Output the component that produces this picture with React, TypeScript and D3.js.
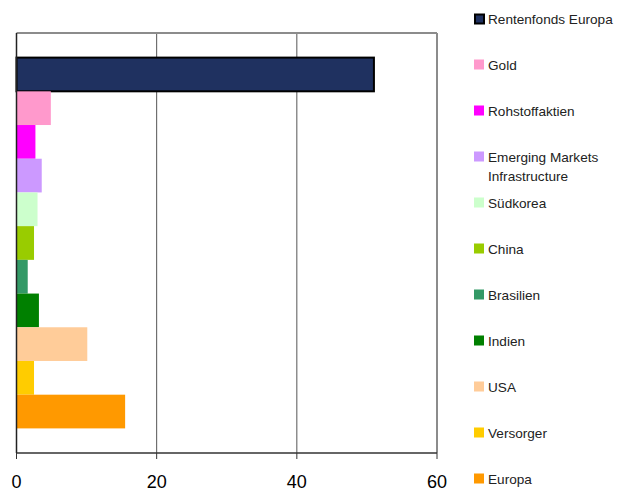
import * as d3 from 'd3';

const categories = [
    'Rentenfonds Europa',
    'Gold',
    'Rohstoffaktien',
    'Emerging Markets Infrastructure',
    'Südkorea',
    'China',
    'Brasilien',
    'Indien',
    'USA',
    'Versorger',
    'Europa',
];
const values = [51.0, 4.9, 2.7, 3.6, 3.0, 2.5, 1.6, 3.2, 10.1, 2.5, 15.5];
const legendLines = [
    ['Rentenfonds Europa'],
    ['Gold'],
    ['Rohstoffaktien'],
    ['Emerging Markets', 'Infrastructure'],
    ['Südkorea'],
    ['China'],
    ['Brasilien'],
    ['Indien'],
    ['USA'],
    ['Versorger'],
    ['Europa'],
];
const colors = [
    '#1f3160',
    '#ff99cc',
    '#ff00ff',
    '#cc99ff',
    '#ccffcc',
    '#99cc00',
    '#339966',
    '#008000',
    '#ffcc99',
    '#ffcc00',
    '#ff9900',
];
const xTicks = [0, 20, 40, 60];

const width = 620;
const height = 492;
const margin = { left: 16.5, right: 183, top: 33, bottom: 39 };

export default function App() {
    const x = d3
        .scaleLinear()
        .domain([0, 60])
        .range([margin.left, width - margin.right]);
    const y = d3
        .scaleBand<string>()
        .domain(categories)
        .range([margin.top, height - margin.bottom])
        .paddingInner(0)
        .paddingOuter(0.73);
    const legendY = d3
        .scalePoint<string>()
        .domain(categories)
        .range([18.5, 478.5]);

    const plotTop = margin.top;
    const plotBottom = height - margin.bottom;

    return (
        <div style={{ position: 'absolute', left: 0, top: 0 }}>
            <svg width={width} height={height} style={{ display: 'block' }}>
                <rect width={width} height={height} fill="#fff" />
                {/* grid lines */}
                {xTicks.slice(1, -1).map((t) => (
                    <line
                        key={t}
                        x1={x(t)}
                        x2={x(t)}
                        y1={plotTop}
                        y2={plotBottom}
                        stroke="#555"
                        strokeWidth={1}
                    />
                ))}
                {/* frame top/right */}
                <line
                    x1={x(0)}
                    x2={x(60)}
                    y1={plotTop}
                    y2={plotTop}
                    stroke="#8c8c8c"
                    strokeWidth={2}
                />
                <line
                    x1={x(60)}
                    x2={x(60)}
                    y1={plotTop}
                    y2={plotBottom}
                    stroke="#8c8c8c"
                    strokeWidth={2}
                />
                {/* bars */}
                {categories.map((c, i) => (
                    <rect
                        key={c}
                        x={x(0)}
                        y={y(c)!}
                        width={x(values[i]) - x(0)}
                        height={y.bandwidth()}
                        fill={colors[i]}
                        stroke={i === 0 ? '#000' : 'none'}
                        strokeWidth={i === 0 ? 2 : 0}
                    />
                ))}
                {/* y axis */}
                <line
                    x1={x(0)}
                    x2={x(0)}
                    y1={plotTop}
                    y2={plotBottom}
                    stroke="#222"
                    strokeWidth={1.5}
                />
                {/* x axis */}
                <line
                    x1={x(0)}
                    x2={x(60)}
                    y1={plotBottom}
                    y2={plotBottom}
                    stroke="#333"
                    strokeWidth={1.5}
                />
                {xTicks.map((t) => (
                    <g key={t}>
                        <line
                            x1={x(t)}
                            x2={x(t)}
                            y1={plotBottom}
                            y2={plotBottom + 6}
                            stroke="#333"
                            strokeWidth={1}
                        />
                        <text
                            x={x(t)}
                            y={plotBottom + 35}
                            textAnchor="middle"
                            fontFamily="'Liberation Sans', Arial, sans-serif"
                            fontSize={18}
                            fill="#000"
                        >
                            {t}
                        </text>
                    </g>
                ))}
                {/* legend */}
                {categories.map((c, i) => {
                    const cy = legendY(c)!;
                    return (
                        <g key={c}>
                            <rect
                                x={i === 0 ? 475 : 474}
                                y={cy - (i === 0 ? 4 : 5)}
                                width={i === 0 ? 9 : 10}
                                height={i === 0 ? 9 : 10}
                                fill={colors[i]}
                                stroke={i === 0 ? '#000' : 'none'}
                                strokeWidth={i === 0 ? 2 : 0}
                            />
                            {legendLines[i].map((line, j) => (
                                <text
                                    key={j}
                                    x={488}
                                    y={cy + 5 + j * 19}
                                    fontFamily="'Liberation Sans', Arial, sans-serif"
                                    fontSize={13.6}
                                    fill="#222"
                                >
                                    {line}
                                </text>
                            ))}
                        </g>
                    );
                })}
            </svg>
        </div>
    );
}
